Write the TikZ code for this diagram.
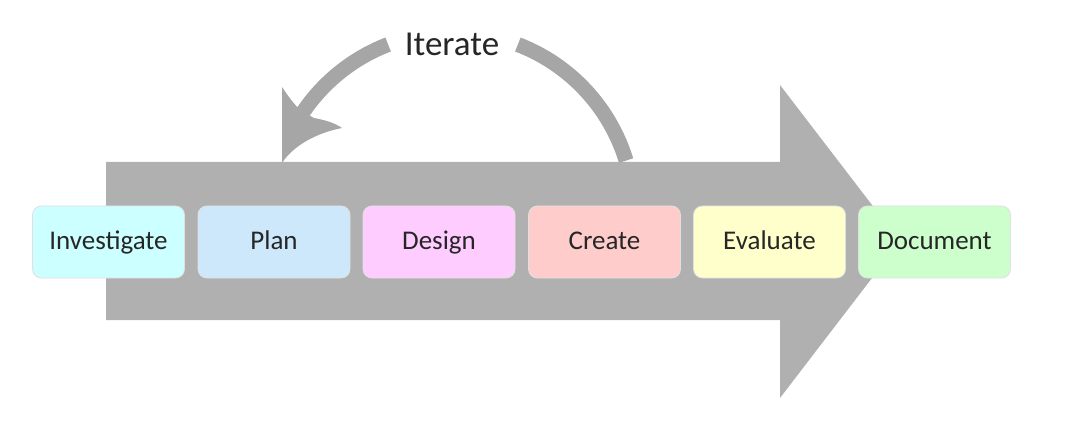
\documentclass[tikz,border=0pt]{standalone}
\usepackage{fontspec}
\setmainfont{Carlito}
\definecolor{arrowgray}{HTML}{B0B0B0}
\definecolor{loopgray}{HTML}{A6A6A6}
\definecolor{txt}{HTML}{262626}
\definecolor{cInv}{HTML}{CCFFFF}
\definecolor{cPlan}{HTML}{CCE8FA}
\definecolor{cDes}{HTML}{FFCCFF}
\definecolor{cCre}{HTML}{FFCCCC}
\definecolor{cEva}{HTML}{FFFFCC}
\definecolor{cDoc}{HTML}{CCFFCC}
\tikzset{
  stage/.style={rounded corners=9pt, draw=black!12, line width=0.8pt,
    minimum width=152pt, minimum height=72pt, inner sep=0pt,
    text height=18pt, text depth=4pt,
    font=\fontsize{27}{31}\selectfont, text=txt},
  looptext/.style={font=\fontsize{35}{40}\selectfont, text=txt, inner sep=0pt}
}
\begin{document}
\begin{tikzpicture}[x=1pt, y=-1pt]
\useasboundingbox (0,0) rectangle (1069,425);
% big arrow
\fill[arrowgray] (106,162) -- (780,162) -- (780,85) -- (900,241.5) -- (780,398) -- (780,320) -- (106,320) -- cycle;
% iterate loop arrow
\coordinate (C) at (453,213.5);
\draw[loopgray, line width=15pt] ([shift={(C)}]-17:181) arc[start angle=-17, end angle=-69, radius=181];
\draw[loopgray, line width=15pt] ([shift={(C)}]-111:181) arc[start angle=-111, end angle=-146, radius=181];
\fill[loopgray] (282,163) -- (282,87)
  .. controls (288,96) and (294,104) .. (300,110)
  -- (314,118)
  .. controls (325,120) and (335,123) .. (342,128)
  .. controls (316,133) and (293,146) .. (282,163) -- cycle;
\node[looptext] (iter) at (452,44) {Iterate};
% stages
\node[stage, fill=cInv]  (inv)  at (108.5,242) {Investigate};
\node[stage, fill=cPlan] (plan) at (274,242) {Plan};
\node[stage, fill=cDes]  (des)  at (439,242) {Design};
\node[stage, fill=cCre]  (cre)  at (604.5,242) {Create};
\node[stage, fill=cEva]  (eva)  at (769.5,242) {Evaluate};
\node[stage, fill=cDoc]  (doc)  at (934.5,242) {Document};
\end{tikzpicture}
\end{document}
